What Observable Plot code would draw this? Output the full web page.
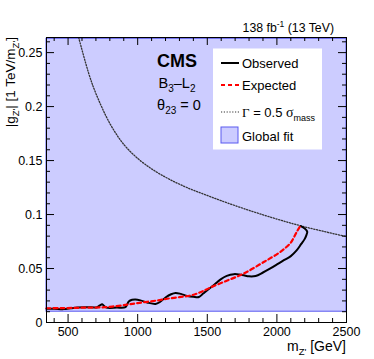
<!DOCTYPE html>
<html><head><meta charset="utf-8">
<script src="https://cdn.jsdelivr.net/npm/d3@7"></script>
<script src="https://cdn.jsdelivr.net/npm/@observablehq/plot@0.6"></script>
<style>body{margin:0;background:#fff} svg{display:block}</style>
</head><body><div id="chart"></div>
<script>
// ---- data ----
const xDomain = [345, 2500];
const yDomain = [0, 0.264];
const xMajorTicks = [500, 1000, 1500, 2000, 2500];
const xMinorTicks = [400, 600, 700, 800, 900, 1100, 1200, 1300, 1400, 1600, 1700, 1800, 1900, 2100, 2200, 2300, 2400];
const yMajorTicks = [0, 0.05, 0.1, 0.15, 0.2, 0.25];
const yMinorTicks = [0.01, 0.02, 0.03, 0.04, 0.06, 0.07, 0.08, 0.09, 0.11, 0.12, 0.13, 0.14, 0.16, 0.17, 0.18, 0.19, 0.21, 0.22, 0.23, 0.24, 0.26];

const globalFitLow = 0.01;
const globalFitHigh = 0.2628;

const observedMass = [345, 400, 468, 520, 565, 640, 709, 728, 745, 760, 775, 850, 912, 936, 960, 984, 1020, 1068, 1128, 1160, 1200, 1240, 1272, 1310, 1356, 1400, 1440, 1470, 1500, 1550, 1596, 1640, 1691, 1730, 1763, 1800, 1847, 1900, 1950, 2004, 2050, 2100, 2140, 2175, 2198, 2212, 2218, 2200, 2172];
const observedG    = [0.0128, 0.0128, 0.0124, 0.0132, 0.0140, 0.0142, 0.0142, 0.0158, 0.0168, 0.0152, 0.0138, 0.0138, 0.0142, 0.0195, 0.0210, 0.0213, 0.0205, 0.0186, 0.0172, 0.0190, 0.0232, 0.0262, 0.0274, 0.0265, 0.0246, 0.0238, 0.0236, 0.0268, 0.0300, 0.0350, 0.0400, 0.0432, 0.0448, 0.0445, 0.0437, 0.0428, 0.0431, 0.0463, 0.0498, 0.0540, 0.0577, 0.0615, 0.0665, 0.0728, 0.0770, 0.0810, 0.0840, 0.0870, 0.0893];

const expectedMass = [345, 450, 600, 768, 924, 1000, 1140, 1212, 1300, 1380, 1450, 1524, 1644, 1740, 1800, 1883, 1932, 2004, 2060, 2099, 2123, 2145, 2166];
const expectedG    = [0.0132, 0.0133, 0.0137, 0.0142, 0.0165, 0.0180, 0.0204, 0.0220, 0.0235, 0.0250, 0.0280, 0.0325, 0.0389, 0.0440, 0.0480, 0.0543, 0.0580, 0.0636, 0.0690, 0.0738, 0.0790, 0.0845, 0.0889];

const gammaMass = [576, 650, 700, 800, 900, 1000, 1100, 1200, 1300, 1400, 1500, 1600, 1800, 2000, 2200, 2500];
const gammaG    = [0.264, 0.230, 0.2121, 0.1844, 0.1650, 0.1520, 0.1423, 0.1346, 0.1281, 0.1225, 0.1177, 0.1128, 0.1039, 0.0958, 0.0886, 0.0796];

// ---- layout ----
const W = 374, H = 359;
const M = {left: 46, right: 28, top: 37, bottom: 37};
const font = "'Liberation Sans', Arial, Helvetica, sans-serif";
const serif = "'Liberation Serif', 'Times New Roman', serif";
const xK = (W - M.left - M.right) / (xDomain[1] - xDomain[0]);
const yK = (H - M.top - M.bottom) / (yDomain[1] - yDomain[0]);
const majLen = 8, minLen = 4;

const observed = observedMass.map((m, i) => ({m, g: observedG[i]}));
const expected = expectedMass.map((m, i) => ({m, g: expectedG[i]}));
const gamma = gammaMass.map((m, i) => ({m, g: gammaG[i]}));

function xTicks(arr, len) {
  return [
    Plot.ruleX(arr, {x: d => d, y1: yDomain[0], y2: yDomain[0] + len / yK, stroke: "black"}),
    Plot.ruleX(arr, {x: d => d, y1: yDomain[1] - len / yK, y2: yDomain[1], stroke: "black"})
  ];
}
function yTicks(arr, len) {
  return [
    Plot.ruleY(arr, {y: d => d, x1: xDomain[0], x2: xDomain[0] + len / xK, stroke: "black"}),
    Plot.ruleY(arr, {y: d => d, x1: xDomain[1] - len / xK, x2: xDomain[1], stroke: "black"})
  ];
}

const plot = Plot.plot({
  width: W, height: H,
  marginLeft: M.left, marginRight: M.right, marginTop: M.top, marginBottom: M.bottom,
  style: `font-family:${font};font-size:12.5px;background:white;color:black;overflow:visible`,
  x: {domain: xDomain},
  y: {domain: yDomain},
  marks: [
    Plot.rect([{x1: xDomain[0], x2: xDomain[1], y1: globalFitLow, y2: globalFitHigh}],
      {x1: "x1", x2: "x2", y1: "y1", y2: "y2", fill: "#ccccff", stroke: "#5a5af0", strokeWidth: 1}),
    Plot.line(gamma, {x: "m", y: "g", stroke: "#333", strokeWidth: 1.3, strokeDasharray: "1.2,1.6", curve: "catmull-rom", clip: true}),
    Plot.line(observed, {x: "m", y: "g", stroke: "black", strokeWidth: 2, curve: "catmull-rom"}),
    Plot.line(expected, {x: "m", y: "g", stroke: "#ff0000", strokeWidth: 2.2, strokeDasharray: "4,3", curve: "catmull-rom"}),
    ...xTicks(xMajorTicks, majLen), ...xTicks(xMinorTicks, minLen),
    ...yTicks(yMajorTicks, majLen), ...yTicks(yMinorTicks, minLen),
    Plot.frame({stroke: "black"}),
    Plot.axisX({ticks: xMajorTicks, tickSize: 0, tickPadding: 5, label: null, fontSize: 12.5, tickFormat: d => String(d)}),
    Plot.axisY({ticks: yMajorTicks, tickSize: 0, tickPadding: 4, label: null, fontSize: 12.5, tickFormat: d => String(d)})
  ]
});

document.getElementById("chart").appendChild(plot);

// ---- annotations ----
const svg = d3.select(plot);
const g = svg.append("g").attr("font-family", font).attr("fill", "black").attr("text-anchor", "start");

const lumi = g.append("text").attr("x", 334).attr("y", 31.5).attr("text-anchor", "end").attr("font-size", 12.3);
lumi.append("tspan").text("138 fb");
lumi.append("tspan").attr("dy", -4.5).attr("font-size", 8.5).text("-1");
lumi.append("tspan").attr("dy", 4.5).text(" (13 TeV)");

const yl = g.append("text").attr("transform", "translate(15,37) rotate(-90)").attr("text-anchor", "end").attr("font-size", 13.5);
yl.append("tspan").text("|g");
yl.append("tspan").attr("dy", 4).attr("font-size", 9.5).text("Z'");
yl.append("tspan").attr("dy", -4).text("| [1 TeV/m");
yl.append("tspan").attr("dy", 4).attr("font-size", 9.5).text("Z'");
yl.append("tspan").attr("dy", -4).text("]");

const xl = g.append("text").attr("x", 346).attr("y", 351).attr("text-anchor", "end").attr("font-size", 14);
xl.append("tspan").text("m");
xl.append("tspan").attr("dy", 3.5).attr("font-size", 9.5).text("Z'");
xl.append("tspan").attr("dy", -3.5).text(" [GeV]");

g.append("text").attr("x", 177).attr("y", 67).attr("text-anchor", "middle").attr("font-size", 18).attr("font-weight", "bold").text("CMS");
const bl = g.append("text").attr("x", 177).attr("y", 88).attr("text-anchor", "middle").attr("font-size", 14.5);
bl.append("tspan").text("B");
bl.append("tspan").attr("dy", 4).attr("font-size", 10).text("3");
bl.append("tspan").attr("dy", -4).text("–L");
bl.append("tspan").attr("dy", 4).attr("font-size", 10).text("2");
const th = g.append("text").attr("x", 179).attr("y", 110).attr("text-anchor", "middle").attr("font-size", 14.5);
th.append("tspan").text("θ");
th.append("tspan").attr("dy", 4).attr("font-size", 10).text("23");
th.append("tspan").attr("dy", -4).text(" = 0");

const lg = g.append("g").attr("text-anchor", "start");
lg.append("rect").attr("x", 213).attr("y", 48.5).attr("width", 109).attr("height", 101).attr("fill", "white");
lg.append("line").attr("x1", 221).attr("x2", 239).attr("y1", 63).attr("y2", 63).attr("stroke", "black").attr("stroke-width", 2);
lg.append("line").attr("x1", 221).attr("x2", 239).attr("y1", 85).attr("y2", 85).attr("stroke", "#ff0000").attr("stroke-width", 2).attr("stroke-dasharray", "4,3");
lg.append("line").attr("x1", 221).attr("x2", 239).attr("y1", 112).attr("y2", 112).attr("stroke", "#333").attr("stroke-width", 1.2).attr("stroke-dasharray", "1.2,1.6");
lg.append("rect").attr("x", 221).attr("y", 127).attr("width", 17).attr("height", 16).attr("fill", "#ccccff").attr("stroke", "#5a5af0");
lg.append("text").attr("x", 242).attr("y", 68).attr("font-size", 13).text("Observed");
lg.append("text").attr("x", 242).attr("y", 89.5).attr("font-size", 13).text("Expected");
const gl = lg.append("text").attr("x", 242).attr("y", 117).attr("font-size", 13);
gl.append("tspan").attr("font-family", serif).text("Γ");
gl.append("tspan").text(" = 0.5 ");
gl.append("tspan").attr("font-family", serif).attr("font-size", 14).text("σ");
gl.append("tspan").attr("dy", 3.5).attr("font-size", 9).text("mass");
lg.append("text").attr("x", 242).attr("y", 140.5).attr("font-size", 13).text("Global fit");
</script>
</body></html>
